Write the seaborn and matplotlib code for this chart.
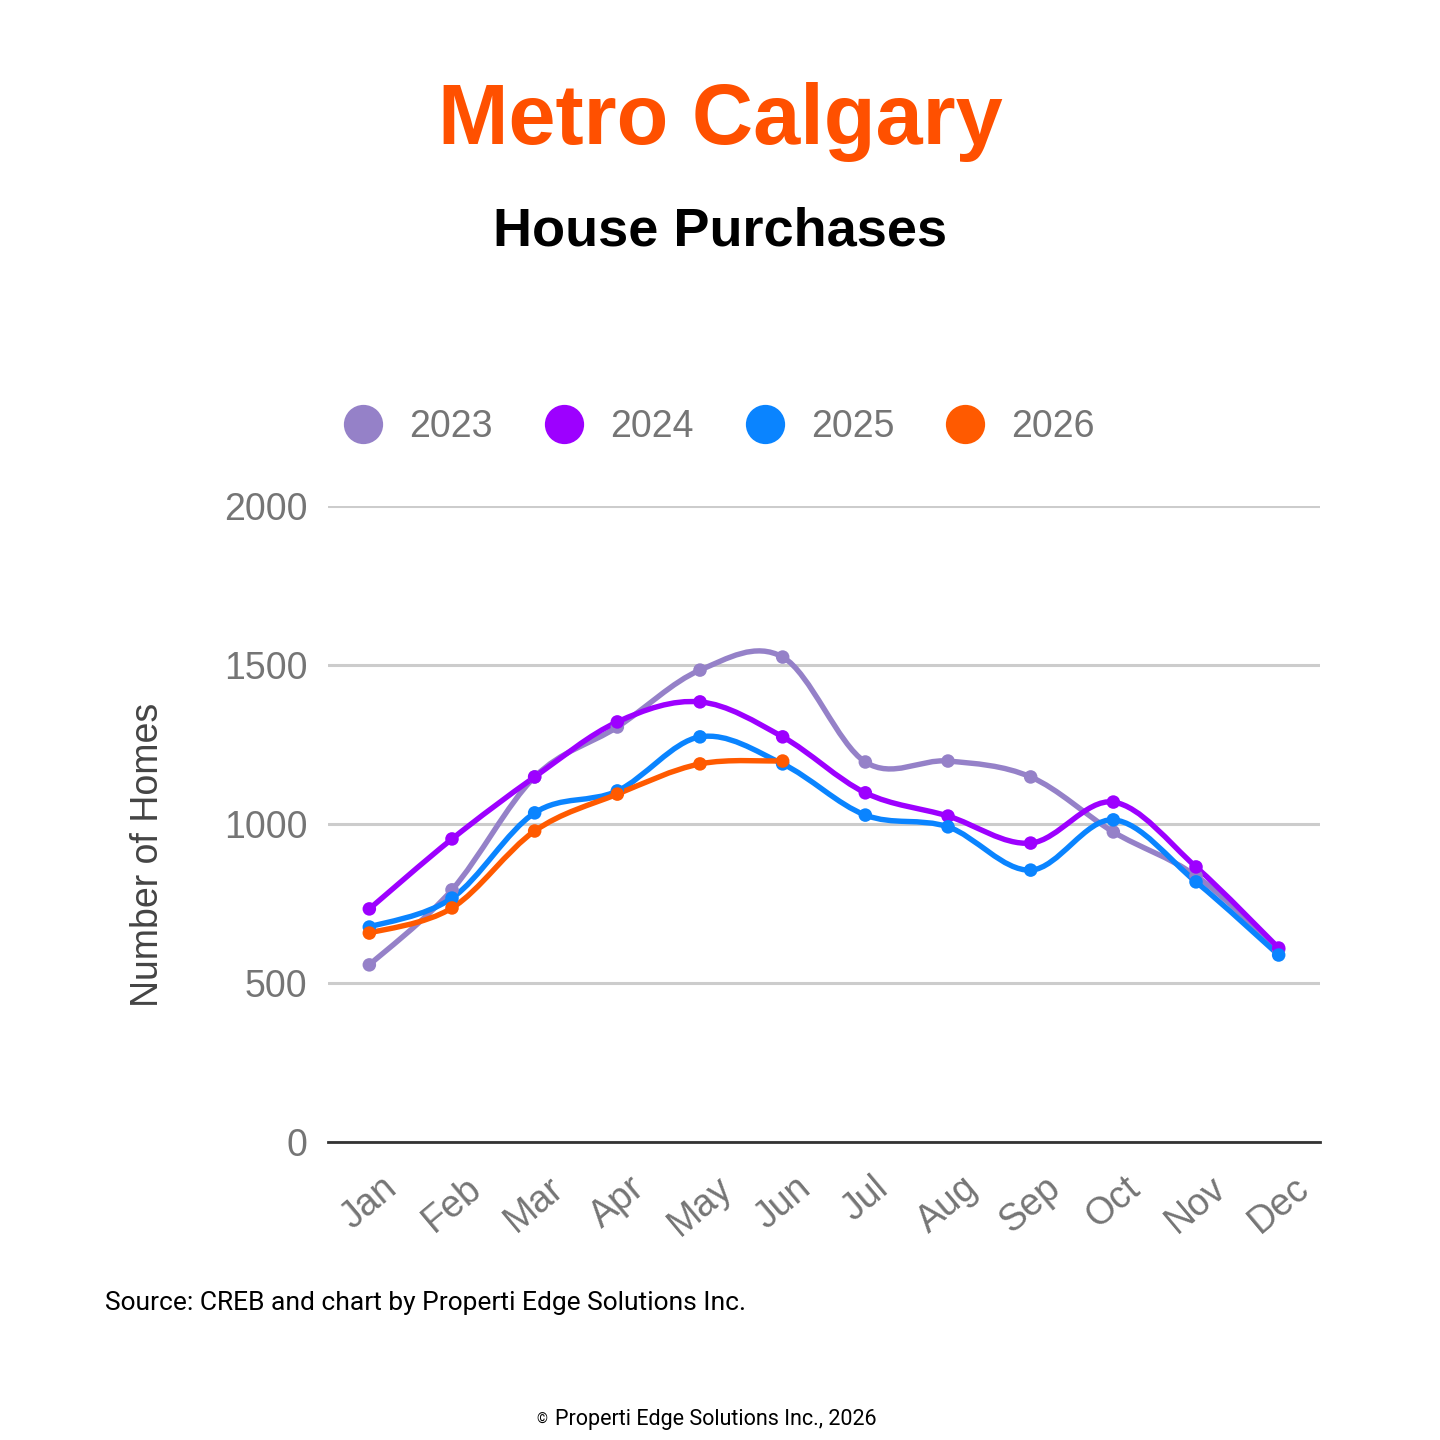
import numpy as np
import pandas as pd
import seaborn as sns
import matplotlib.pyplot as plt
from matplotlib.path import Path
from matplotlib.patches import PathPatch

months = ['Jan', 'Feb', 'Mar', 'Apr', 'May', 'Jun', 'Jul', 'Aug', 'Sep', 'Oct', 'Nov', 'Dec']
years = ['2023', '2024', '2025', '2026']
sales_2023 = [557, 793, 1148, 1305, 1484, 1525, 1195, 1198, 1148, 975, 837, 605]
sales_2024 = [733, 953, 1148, 1321, 1384, 1274, 1098, 1025, 940, 1069, 865, 610]
sales_2025 = [676, 767, 1035, 1104, 1274, 1189, 1028, 991, 855, 1013, 818, 588]
sales_2026 = [657, 736, 978, 1094, 1189, 1198]
colors = {'2023': '#9581C8', '2024': '#9D00FF', '2025': '#0A84FF', '2026': '#FF5A00'}

rows = []
for yr, vals in zip(years, [sales_2023, sales_2024, sales_2025, sales_2026]):
    for m, v in zip(months, vals):
        rows.append({'month': months.index(m), 'homes': v, 'year': yr})
df = pd.DataFrame(rows)


def smooth_path(xs, ys):
    # cubic bezier through the points (catmull-rom style control points)
    xs = np.asarray(xs, float)
    ys = np.asarray(ys, float)
    px = np.concatenate([[xs[0]], xs, [xs[-1]]])
    py = np.concatenate([[ys[0]], ys, [ys[-1]]])
    verts = [(xs[0], ys[0])]
    codes = [Path.MOVETO]
    for i in range(1, len(px) - 2):
        c1 = (px[i] + (px[i + 1] - px[i - 1]) / 6, py[i] + (py[i + 1] - py[i - 1]) / 6)
        c2 = (px[i + 1] - (px[i + 2] - px[i]) / 6, py[i + 1] - (py[i + 2] - py[i]) / 6)
        verts += [c1, c2, (px[i + 1], py[i + 1])]
        codes += [Path.CURVE4] * 3
    return Path(verts, codes)


sns.set_style('white')
plt.rcParams['font.family'] = ['Liberation Sans', 'DejaVu Sans']

fig = plt.figure(figsize=(14.4, 14.4), dpi=100)
ax = fig.add_axes([328 / 1440, 1 - 1142 / 1440, 992 / 1440, 636 / 1440])

for yr in years:
    d = df[df['year'] == yr]
    ax.add_patch(PathPatch(smooth_path(d['month'], d['homes']), facecolor='none',
                           edgecolor=colors[yr], lw=3.9, capstyle='round', zorder=3))

sns.scatterplot(data=df, x='month', y='homes', hue='year', palette=colors,
                s=95, edgecolor='none', ax=ax, zorder=4, legend=True)

ax.set_xlim(-0.5, 11.5)
ax.set_ylim(0, 2000)
ax.set_yticks([0, 500, 1000, 1500, 2000])
ax.set_xticks(range(12))
ax.set_xticklabels(months, rotation=40, ha='center', va='top')
ax.tick_params(axis='x', length=0, pad=20, labelsize=27, labelcolor='#757575')
ax.tick_params(axis='y', length=0, pad=15, labelsize=27, labelcolor='#757575')
ax.grid(axis='y', color='#CCCCCC', lw=2.2)
ax.set_axisbelow(True)
for s in ['top', 'right', 'left']:
    ax.spines[s].set_visible(False)
ax.spines['bottom'].set_color('#333333')
ax.spines['bottom'].set_linewidth(2)
ax.spines['bottom'].set_zorder(5)

ax.set_xlabel('')
ax.set_ylabel('Number of Homes', fontsize=27, color='#444444')
ax.yaxis.set_label_coords(-0.163, 0.451)

sns.move_legend(ax, 'center', bbox_to_anchor=(0.39, 1.124), ncol=4, frameon=False,
                title=None, fontsize=27, markerscale=2.9, columnspacing=1.15,
                handlelength=1.5, handletextpad=0.48, labelcolor='#757575')

fig.text(0.5, 1 - 122 / 1440, 'Metro Calgary', ha='center', va='center',
         fontsize=61, fontweight='bold', color='#FF5000')
fig.text(0.5, 1 - 231 / 1440, 'House Purchases', ha='center', va='center',
         fontsize=39, fontweight='bold', color='black')
fig.text(105 / 1440, 1 - 1303 / 1440, 'Source: CREB and chart by Properti Edge Solutions Inc.',
         ha='left', va='center', fontsize=19, color='black', family='Roboto')
fig.text(547 / 1440, 1 - 1420 / 1440, '©', ha='right', va='center', fontsize=10,
         color='black', family='Roboto')
fig.text(555 / 1440, 1 - 1419 / 1440, 'Properti Edge Solutions Inc., 2026', ha='left', va='center',
         fontsize=15.5, color='black', family='Roboto')

fig.savefig('out.png', dpi=100, facecolor='white')
